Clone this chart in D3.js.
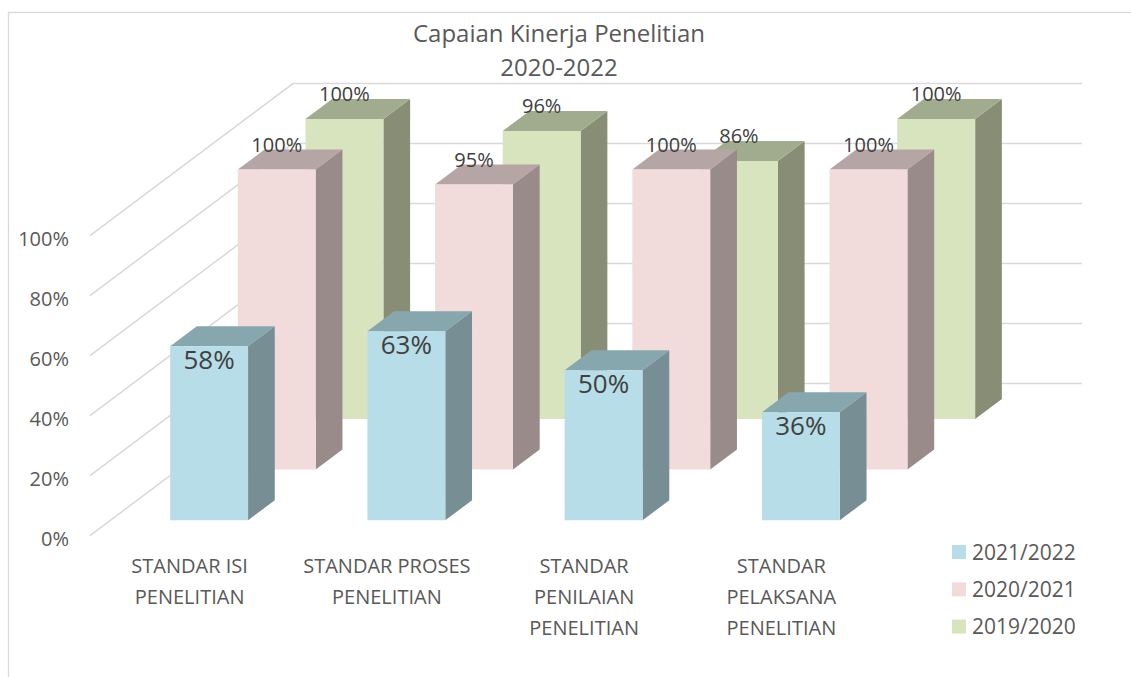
<!DOCTYPE html>
<html>
<head>
<meta charset="utf-8">
<script src="https://cdn.jsdelivr.net/npm/d3@7"></script>
<style>
  html, body { margin: 0; padding: 0; background: #fff; }
  svg { display: block; font-family: "Open Sans", "Noto Sans", sans-serif; }
</style>
</head>
<body>
<svg id="chart" width="1131" height="677"></svg>
<script>
// ---- data ----
const categories = [
  ["STANDAR ISI", "PENELITIAN"],
  ["STANDAR PROSES", "PENELITIAN"],
  ["STANDAR", "PENILAIAN", "PENELITIAN"],
  ["STANDAR", "PELAKSANA", "PENELITIAN"]
];
const seriesNames = ["2021/2022", "2020/2021", "2019/2020"];
const values2122 = [58, 63, 50, 36];
const values2021 = [100, 95, 100, 100];
const values1920 = [100, 96, 86, 100];
const yTicks = [0, 20, 40, 60, 80, 100];
const titleLines = ["Capaian Kinerja Penelitian", "2020-2022"];

const seriesValues = [values2122, values2021, values1920];
const faceColors = [
  { front: "#B7DEE8", top: "#87A7AE", side: "#768E94" },
  { front: "#F2DCDB", top: "#B5A5A4", side: "#998B8A" },
  { front: "#D7E4BD", top: "#A1AC8E", side: "#878E75" }
];

const svg = d3.select("#chart");
const catKeys = categories.map((c, i) => "c" + i);

// ---- scales ----
const x = d3.scaleBand().domain(catKeys).range([90, 879]).paddingInner(0.605).paddingOuter(0.3025);
const y = d3.scaleLinear().domain([0, 100]).range([535.6, 235.6]);
const z = d3.scaleBand().domain(seriesNames).range([0, 1]).paddingInner(0.605).paddingOuter(0.3025);
const DX = 203, DY = -152;
function proj(px, v, depth) { return [px + depth * DX, y(v) + depth * DY]; }
function poly(pts) { return "M" + pts.map(p => p[0] + "," + p[1]).join("L") + "Z"; }

// ---- frame ----
svg.append("rect").attr("x", 8.5).attr("y", 12.5).attr("width", 1300).attr("height", 800)
  .attr("fill", "none").attr("stroke", "#D9D9D9").attr("stroke-width", 1.3);

// ---- title ----
svg.append("text").attr("x", 559).attr("y", 42).attr("text-anchor", "middle")
  .attr("font-size", 24).attr("fill", "#595959").text(titleLines[0]);
svg.append("text").attr("x", 559).attr("y", 76).attr("text-anchor", "middle")
  .attr("font-size", 24).attr("fill", "#595959").text(titleLines[1]);

// ---- gridlines ----
const x0 = x.range()[0], x1 = x.range()[1];
const gridG = svg.append("g");
yTicks.forEach(t => {
  const a = proj(x0, t, 0), b = proj(x0, t, 1), c = proj(x1, t, 1);
  gridG.append("path").attr("d", "M" + a + "L" + b + "L" + c)
    .attr("fill", "none").attr("stroke", "#D9D9D9").attr("stroke-width", 1.5);
});

// ---- y axis labels ----
svg.append("g").selectAll("text").data(yTicks).join("text")
  .attr("x", 69).attr("y", d => y(d) + 10.5).attr("text-anchor", "end")
  .attr("font-size", 20).attr("fill", "#595959").text(d => d + "%");

// ---- bars (back row first) ----
const barsG = svg.append("g");
for (let s = seriesNames.length - 1; s >= 0; s--) {
  const zf = z(seriesNames[s]), zb = zf + z.bandwidth();
  const col = faceColors[s];
  seriesValues[s].forEach((v, i) => {
    const xl = x(catKeys[i]), xr = xl + x.bandwidth();
    const g = barsG.append("g");
    // side
    g.append("path").attr("d", poly([proj(xr, 0, zf), proj(xr, 0, zb), proj(xr, v, zb), proj(xr, v, zf)]))
      .attr("fill", col.side);
    // top
    g.append("path").attr("d", poly([proj(xl, v, zf), proj(xr, v, zf), proj(xr, v, zb), proj(xl, v, zb)]))
      .attr("fill", col.top);
    // front
    g.append("path").attr("d", poly([proj(xl, 0, zf), proj(xr, 0, zf), proj(xr, v, zf), proj(xl, v, zf)]))
      .attr("fill", col.front);
  });
}

// ---- data labels ----
const labG = svg.append("g");
seriesNames.forEach((name, s) => {
  const zf = z(name), zb = zf + z.bandwidth();
  seriesValues[s].forEach((v, i) => {
    const cx = x(catKeys[i]) + x.bandwidth() / 2;
    if (s === 0) {
      const p = proj(cx, v, zf);
      labG.append("text").attr("x", p[0]).attr("y", p[1] + 23).attr("text-anchor", "middle")
        .attr("font-size", 26).attr("fill", "#404040").text(v + "%");
    } else {
      const pf = proj(cx, v, zf), pb = proj(cx, v, zb);
      labG.append("text").attr("x", pf[0]).attr("y", pb[1] + 2).attr("text-anchor", "middle")
        .attr("font-size", 20).attr("fill", "#404040").text(v + "%");
    }
  });
});

// ---- category labels ----
const catG = svg.append("g");
categories.forEach((lines, i) => {
  const cx = x(catKeys[i]) + x.bandwidth() / 2 + 1;
  lines.forEach((ln, j) => {
    catG.append("text").attr("x", cx).attr("y", 573 + j * 31).attr("text-anchor", "middle")
      .attr("font-size", 20).attr("fill", "#595959").text(ln);
  });
});

// ---- legend ----
const legG = svg.append("g");
const legColors = faceColors.map(c => c.front);
seriesNames.forEach((name, i) => {
  const cy = 552 + i * 37.3;
  legG.append("rect").attr("x", 952).attr("y", cy - 7).attr("width", 14).attr("height", 14).attr("fill", legColors[i]);
  legG.append("text").attr("x", 972).attr("y", cy + 7.5).attr("font-size", 21).attr("fill", "#595959").text(name);
});
</script>
</body>
</html>
